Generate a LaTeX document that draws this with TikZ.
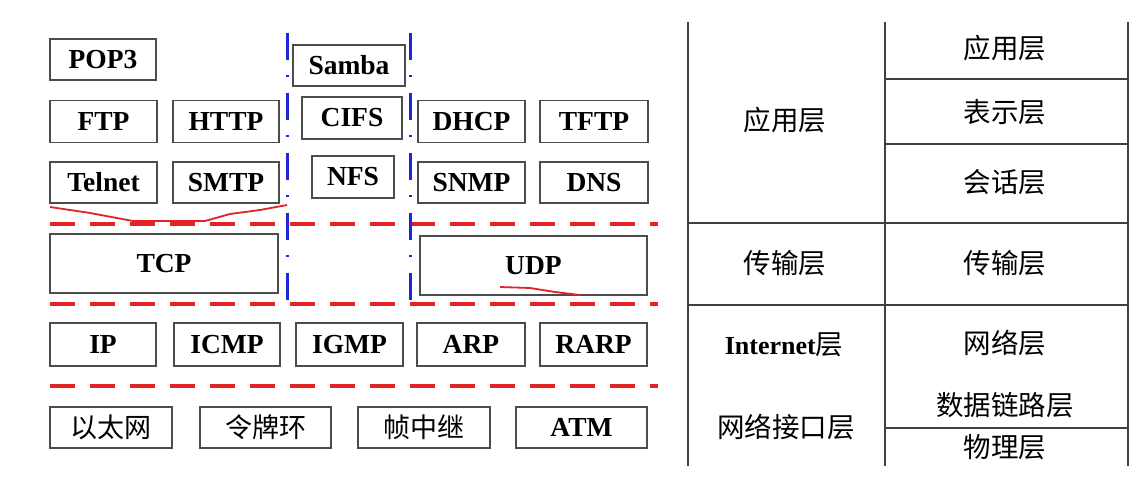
\documentclass[tikz,border=0pt]{standalone}
\usepackage{fontspec}
\setmainfont{Liberation Serif}
\newfontfamily\cjk{Noto Sans CJK SC}
\usetikzlibrary{positioning}

\definecolor{sepred}{RGB}{225,35,40}
\definecolor{sepblue}{RGB}{30,40,215}

\begin{document}
\begin{tikzpicture}[
    x=1pt, y=-1pt,
    proto/.style={draw=black!70, line width=1.6pt, minimum width=107pt, minimum height=42pt, inner sep=0pt, font=\fontsize{27.5}{27.5}\selectfont\bfseries},
    link/.style={proto, font=\fontsize{27}{27}\selectfont\mdseries\cjk},
    cell/.style={inner sep=0pt, font=\fontsize{27.5}{27.5}\selectfont\cjk},
    redsep/.style={sepred, line width=3.5pt, dash pattern=on 25pt off 15pt},
    bluesep/.style={sepblue, line width=3pt, dash pattern=on 27pt off 15pt on 2pt off 16pt},
    grid/.style={black!75, line width=1.5pt}
]
    \useasboundingbox (0,0) rectangle (1145,485);

    % application layer protocols
    \node[proto, minimum width=106pt, minimum height=41pt] (pop3) at (103,59.5) {POP3};
    \node[proto, minimum width=112pt, minimum height=41pt] (samba) at (349,65.5) {Samba};
    \node[proto] (ftp) at (103.5,121.5) {FTP};
    \node[proto, minimum width=106pt] (http) at (226,121.5) {HTTP};
    \node[proto, minimum width=100pt] (cifs) at (352,118) {CIFS};
    \node[proto] (dhcp) at (471.5,121.5) {DHCP};
    \node[proto, minimum width=108pt] (tftp) at (594,121.5) {TFTP};
    \node[proto, minimum height=41pt] (telnet) at (103.5,182.5) {Telnet};
    \node[proto, minimum width=106pt, minimum height=41pt] (smtp) at (226,182.5) {SMTP};
    \node[proto, minimum width=82pt] (nfs) at (353,177) {NFS};
    \node[proto, minimum height=41pt] (snmp) at (471.5,182.5) {SNMP};
    \node[proto, minimum width=108pt, minimum height=41pt] (dns) at (594,182.5) {DNS};

    % transport
    \node[proto, minimum width=228pt, minimum height=59pt] (tcp) at (164,263.5) {TCP};
    \node[proto, minimum width=227pt, minimum height=59pt] (udp) at (533.5,265.5) {UDP};

    % internet
    \node[proto, minimum width=106pt, minimum height=43pt] (ip) at (103,344.5) {IP};
    \node[proto, minimum width=106pt, minimum height=43pt] (icmp) at (227,344.5) {ICMP};
    \node[proto, minimum height=43pt] (igmp) at (349.5,344.5) {IGMP};
    \node[proto, minimum width=108pt, minimum height=43pt] (arp) at (471,344.5) {ARP};
    \node[proto, minimum width=107pt, minimum height=43pt] (rarp) at (593.5,344.5) {RARP};

    % network interface
    \node[link, minimum width=122pt, minimum height=41pt] (ether) at (111,427.5) {以太网};
    \node[link, minimum width=131pt, minimum height=41pt] (token) at (265.5,427.5) {令牌环};
    \node[link, minimum width=132pt, minimum height=41pt] (frame) at (424,427.5) {帧中继};
    \node[proto, minimum width=131pt, minimum height=41pt] (atm) at (581.5,427.5) {ATM};

    % separators
    \draw[redsep] (50,224) -- (658,224);
    \draw[redsep] (50,304) -- (658,304);
    \draw[redsep] (50,386) -- (658,386);
    \draw[bluesep] (287,33) -- (287,300);
    \draw[bluesep] (410,33) -- (410,300);

    % red pen marks
    \draw[sepred, line width=1.8pt] (50,207) -- (90,213) -- (133,221) -- (205,221) -- (230,214) -- (260,210) -- (287,205);
    \draw[sepred, line width=1.8pt] (500,287) -- (530,288) -- (555,292) -- (580,295);

    % layer table
    \draw[grid] (688,22) -- (688,466);
    \draw[grid] (885,22) -- (885,466);
    \draw[grid] (1128,22) -- (1128,466);
    \draw[grid] (688,223) -- (1128,223);
    \draw[grid] (688,305) -- (1128,305);
    \draw[grid] (885,79) -- (1128,79);
    \draw[grid] (885,144) -- (1128,144);
    \draw[grid] (885,428) -- (1128,428);

    \node[cell] (tcpip-app) at (785,120) {应用层};
    \node[cell] (tcpip-trans) at (785,263) {传输层};
    \node[cell] (tcpip-inet) at (784,345) {\fontsize{26}{26}\selectfont\rmfamily\bfseries Internet\mdseries\cjk\fontsize{27.5}{27.5}\selectfont 层};
    \node[cell] (tcpip-if) at (786,427) {网络接口层};

    \node[cell] (osi-app) at (1005,48) {应用层};
    \node[cell] (osi-pres) at (1005,112) {表示层};
    \node[cell] (osi-sess) at (1005,182) {会话层};
    \node[cell] (osi-trans) at (1005,263) {传输层};
    \node[cell] (osi-net) at (1005,343) {网络层};
    \node[cell] (osi-link) at (1005,405) {数据链路层};
    \node[cell] (osi-phy) at (1005,447) {物理层};
\end{tikzpicture}
\end{document}
